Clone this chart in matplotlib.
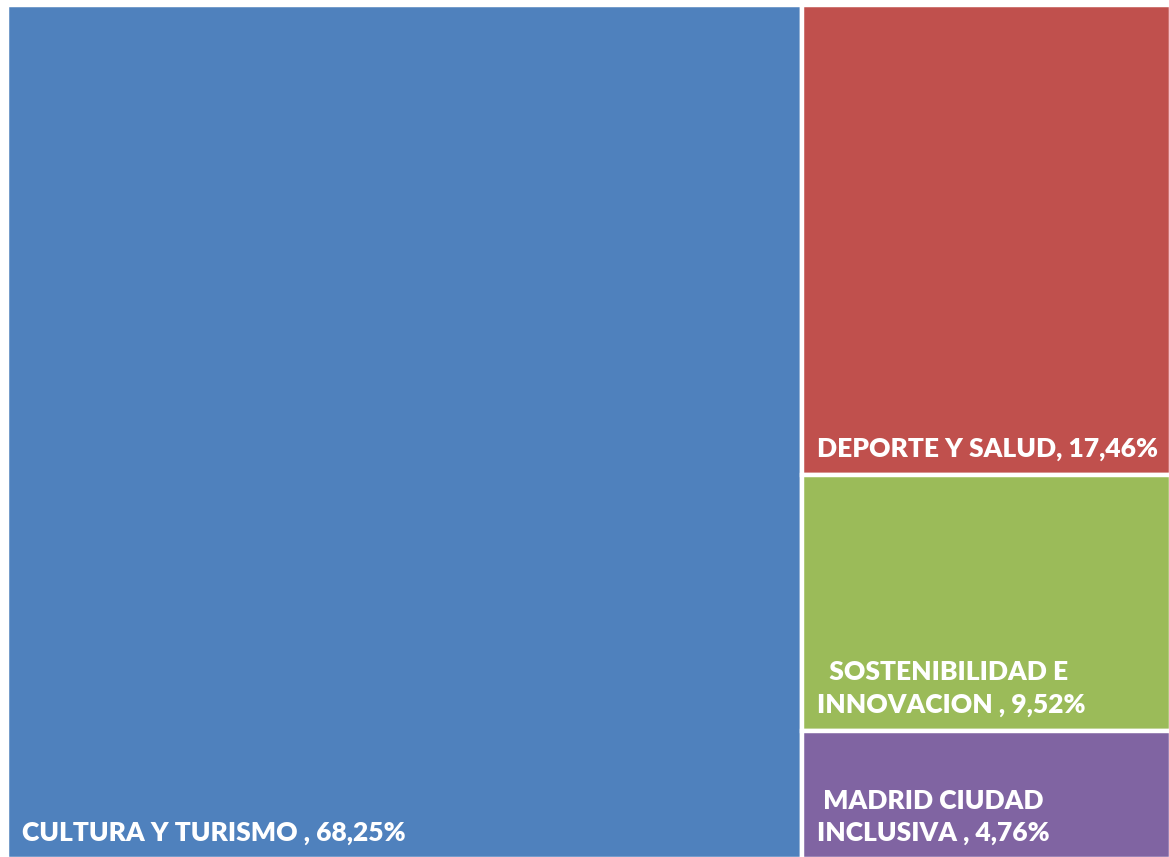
import matplotlib.pyplot as plt
from matplotlib.patches import Rectangle

labels = ["CULTURA Y TURISMO , 68,25%", "DEPORTE Y SALUD, 17,46%",
          "  SOSTENIBILIDAD E\nINNOVACION , 9,52%", " MADRID CIUDAD\nINCLUSIVA , 4,76%"]
values = [68.25, 17.46, 9.52, 4.76]
colors = ["#4F81BD", "#C0504D", "#9BBB59", "#8064A2"]

fig = plt.figure(figsize=(11.69, 8.57), dpi=100)
ax = fig.add_axes([7 / 1169, -2 / 857, 1164 / 1169, 854 / 857])
ax.set_xlim(0, 1)
ax.set_ylim(0, 1)
ax.axis("off")

total = sum(values)
# first block takes a full-height column, the rest stack on the right
w0 = values[0] / total
rects = [(0, 0, w0, 1)]
rest = sum(values[1:])
top = 1.0
for v in values[1:]:
    h = v / rest
    rects.append((w0, top - h, 1 - w0, h))
    top -= h

for (x, y, w, h), lab, c in zip(rects, labels, colors):
    ax.add_patch(Rectangle((x, y), w, h, facecolor=c, edgecolor="white", linewidth=3.2))
    ax.annotate(lab, (x, y), xytext=(11, 13), textcoords="offset points",
                ha="left", va="baseline", color="white", fontsize=19,
                fontweight="heavy", family="Lato", linespacing=1.42)

fig.savefig("out.png", dpi=100)
